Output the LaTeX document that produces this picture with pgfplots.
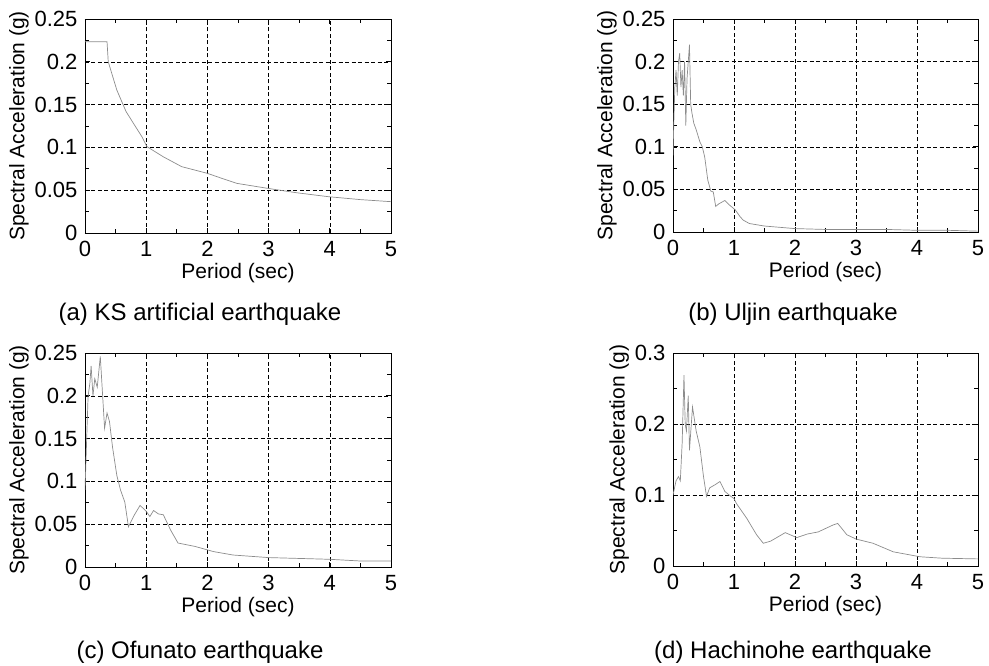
\documentclass[border=0pt]{standalone}
\usepackage{fontspec}
\setmainfont{Liberation Sans}
\usepackage{pgfplots}
\pgfplotsset{compat=1.18}

\pgfplotsset{
  spectrum/.style={
    scale only axis, width=306pt, height=214pt, anchor=south west,
    xmin=0, xmax=5, ymin=0,
    xtick={0,1,2,3,4,5}, minor x tick num=1, minor y tick num=1,
    tick align=inside, major tick length=5pt, minor tick length=4pt,
    axis line style={line width=0.9pt}, tick style={line width=0.8pt, black},
    xmajorgrids, ymajorgrids,
    major grid style={black, line width=0.6pt, dash pattern=on 4pt off 2.5pt},
    font=\fontsize{21}{25}\selectfont,
    /pgf/number format/assume math mode=true,
    xticklabel style={font=\fontsize{22}{26}\selectfont, yshift=-5pt},
    yticklabel style={font=\fontsize{22}{26}\selectfont, xshift=-4pt,
      /pgf/number format/fixed, /pgf/number format/precision=2},
    scaled y ticks=false,
    xlabel={Period (sec)}, ylabel={Spectral Acceleration (g)},
    xlabel style={yshift=1pt}, ylabel style={yshift=-1pt},
  },
  curve/.style={black!45, line width=0.7pt},
}

\begin{document}
\begin{tikzpicture}
\useasboundingbox (0,0) rectangle (989pt,-666pt);

% (a) KS artificial
\begin{axis}[spectrum, at={(85pt,-233pt)}, ymax=0.25, ytick={0,0.05,...,0.25}]
\addplot[curve] coordinates {
  (0,0.2235)(0.36,0.2235)(0.38,0.2)(0.52,0.167)(0.67,0.142)(0.81,0.126)
  (0.93,0.1125)(1.01,0.101)(1.28,0.089)(1.58,0.0775)(2.0,0.0697)(2.25,0.0635)
  (2.48,0.058)(3.0,0.052)(3.46,0.047)(3.98,0.0424)(4.5,0.039)(5,0.0366)
};
\end{axis}

% (b) Uljin
\begin{axis}[spectrum, at={(673pt,-232pt)}, width=305pt, height=213pt, ymax=0.25, ytick={0,0.05,...,0.25}]
\addplot[curve] coordinates {
  (0,0.09)(0.01,0.12)(0.03,0.17)(0.05,0.19)(0.07,0.16)(0.09,0.2)(0.11,0.21)
  (0.13,0.17)(0.15,0.19)(0.17,0.16)(0.19,0.2)(0.21,0.125)(0.23,0.18)(0.25,0.2)
  (0.27,0.22)(0.29,0.15)(0.31,0.14)(0.34,0.128)(0.38,0.12)(0.44,0.106)(0.48,0.1)
  (0.52,0.088)(0.57,0.061)(0.62,0.048)(0.66,0.047)(0.7,0.03)(0.75,0.033)
  (0.85,0.037)(0.92,0.032)(1.02,0.026)(1.1,0.018)(1.15,0.014)(1.25,0.01)
  (1.5,0.007)(2,0.004)(2.5,0.003)(3,0.003)(3.5,0.003)(4,0.002)(4.5,0.002)(5,0.001)
};
\end{axis}

% (c) Ofunato
\begin{axis}[spectrum, at={(85pt,-567pt)}, ymax=0.25, ytick={0,0.05,...,0.25}]
\addplot[curve] coordinates {
  (0,0.09)(0.02,0.133)(0.05,0.199)(0.08,0.215)(0.1,0.235)(0.13,0.2)(0.16,0.22)
  (0.2,0.21)(0.25,0.246)(0.28,0.21)(0.32,0.162)(0.36,0.18)(0.4,0.17)(0.45,0.14)
  (0.52,0.107)(0.58,0.09)(0.65,0.076)(0.71,0.047)(0.8,0.06)(0.9,0.072)(1.0,0.065)
  (1.06,0.059)(1.12,0.066)(1.2,0.062)(1.28,0.061)(1.4,0.043)(1.52,0.028)
  (1.8,0.024)(2.1,0.018)(2.42,0.014)(3.0,0.011)(3.5,0.01)(4.0,0.009)(4.5,0.007)(5,0.007)
};
\end{axis}

% (d) Hachinohe
\begin{axis}[spectrum, at={(673pt,-566pt)}, width=305pt, height=213pt, ymax=0.3, ytick={0,0.1,0.2,0.3}]
\addplot[curve] coordinates {
  (0,0.1)(0.05,0.12)(0.09,0.126)(0.12,0.12)(0.15,0.173)(0.18,0.269)(0.2,0.2)
  (0.22,0.19)(0.25,0.24)(0.27,0.163)(0.32,0.224)(0.38,0.19)(0.44,0.168)(0.5,0.126)
  (0.55,0.098)(0.6,0.11)(0.7,0.115)(0.77,0.119)(0.85,0.105)(0.95,0.098)(1.0,0.095)
  (1.04,0.088)(1.21,0.067)(1.37,0.044)(1.48,0.032)(1.6,0.035)(1.84,0.047)
  (2.03,0.04)(2.2,0.045)(2.38,0.048)(2.63,0.058)(2.7,0.06)(2.85,0.044)(3.0,0.038)
  (3.28,0.032)(3.61,0.02)(4.05,0.013)(4.41,0.011)(5,0.01)
};
\end{axis}

\begin{scope}[every node/.style={font=\fontsize{24}{28}\selectfont, anchor=base}]
\node at (200pt,-320pt) {(a) KS artificial earthquake};
\node at (793pt,-320pt) {(b) Uljin earthquake};
\node at (200pt,-658pt) {(c) Ofunato earthquake};
\node at (793pt,-658pt) {(d) Hachinohe earthquake};
\end{scope}
\end{tikzpicture}
\end{document}
